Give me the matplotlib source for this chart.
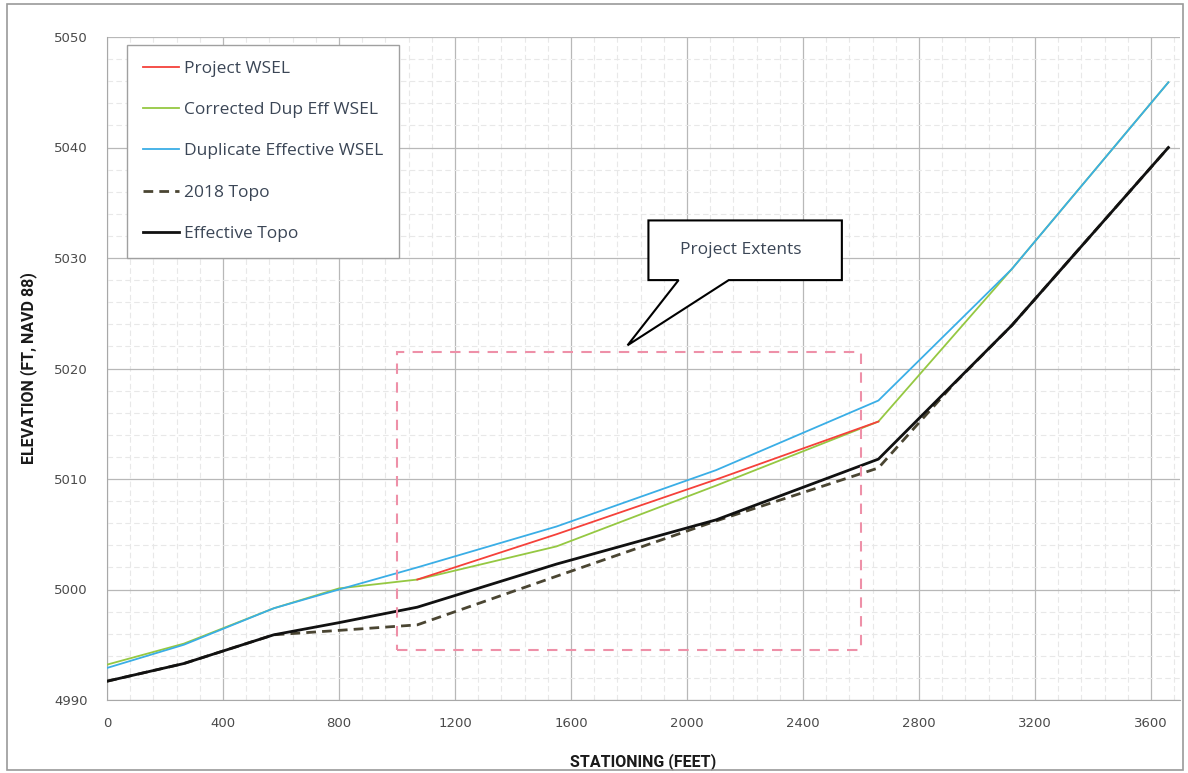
import numpy as np
import matplotlib
matplotlib.use('Agg')
import matplotlib.pyplot as plt
from matplotlib.ticker import MultipleLocator
from matplotlib.patches import Rectangle, Polygon

# stationing (ft) shared by the full-length profiles
stations = [0, 265, 575, 800, 1070, 1550, 2100, 2660, 3120, 3660]
dup_eff_wsel = [4992.9, 4995.0, 4998.3, 5000.0, 5002.0, 5005.7, 5010.8, 5017.1, 5029.0, 5045.9]
corr_dup_wsel = [4993.2, 4995.1, 4998.3, 5000.1, 5000.9, 5003.9, 5009.4, 5015.2, 5029.0, 5045.9]
eff_topo = [4991.7, 4993.3, 4995.9, 4997.0, 4998.4, 5002.3, 5006.3, 5011.8, 5023.9, 5040.0]

# 2018 topo survey
topo_stations = [0, 265, 575, 800, 1070, 1550, 2100, 2660, 2920, 3120, 3660]
topo_2018 = [4991.7, 4993.3, 4995.9, 4996.3, 4996.8, 5001.2, 5006.2, 5011.0, 5018.6, 5023.9, 5040.0]

# project WSEL only inside the project reach
proj_stations = [1070, 1550, 2100, 2660]
proj_wsel = [5000.9, 5005.0, 5009.95, 5015.2]

# project extents box (stationing / elevation)
ext_x = [1000, 2600]
ext_y = [4994.5, 5021.5]

# callout "Project Extents"
call_x = [1867, 2534, 2534, 2144, 1795, 1971, 1867]
call_y = [5033.4, 5033.4, 5028.0, 5028.0, 5022.1, 5028.0, 5028.0]

fig = plt.figure(figsize=(11.88, 7.73), dpi=100)
ax = fig.add_axes([107/1188, 73/773, (1180-107)/1188, (700-37)/773])

ax.plot(proj_stations, proj_wsel, color='#f5413a', lw=1.3, label='Project WSEL', zorder=5)
ax.plot(stations, corr_dup_wsel, color='#95c842', lw=1.3, label='Corrected Dup Eff WSEL', zorder=4)
ax.plot(stations, dup_eff_wsel, color='#3aaee6', lw=1.3, label='Duplicate Effective WSEL', zorder=4.5)
ax.plot(topo_stations, topo_2018, color='#4a4532', lw=2.0, ls=(0, (3.5, 2.2)), label='2018 Topo', zorder=3)
ax.plot(stations, eff_topo, color='#111111', lw=2.0, label='Effective Topo', zorder=4)

ax.set_xlim(0, 3700)
ax.set_ylim(4990, 5050)
ax.xaxis.set_major_locator(MultipleLocator(400))
ax.xaxis.set_minor_locator(MultipleLocator(80))
ax.yaxis.set_major_locator(MultipleLocator(10))
ax.yaxis.set_minor_locator(MultipleLocator(2))
ax.grid(which='major', color='#b8b8b8', lw=0.9)
ax.grid(which='minor', color='#e8e8e8', lw=0.8, ls=(0, (5, 3)))
ax.set_axisbelow(True)

for s in ['top', 'right']:
    ax.spines[s].set_visible(False)
for s in ['left', 'bottom']:
    ax.spines[s].set_color('#a8a8a8')

ax.tick_params(which='both', length=0)
ax.tick_params(axis='x', pad=12, labelsize=9.5, labelcolor='#4a4a4a')
ax.tick_params(axis='y', pad=14, labelsize=9.5, labelcolor='#4a4a4a')

ax.set_xlabel('STATIONING (FEET)', fontsize=11.5, fontweight='bold', family='Roboto',
              color='#1a1a1a', labelpad=17)
ax.set_ylabel('ELEVATION (FT, NAVD 88)', fontsize=11.5, fontweight='bold', family='Roboto',
              color='#1a1a1a', labelpad=12)

# project extents
ax.add_patch(Rectangle((ext_x[0], ext_y[0]), ext_x[1]-ext_x[0], ext_y[1]-ext_y[0],
                       fill=False, ec='#ee90a8', lw=1.5, ls=(0, (5, 4)), zorder=8))

# callout
ax.add_patch(Polygon(np.column_stack([call_x, call_y]), closed=True, fc='white',
                     ec='black', lw=1.5, zorder=9))
ax.text((call_x[0]+call_x[1])/2 - 15, (call_y[0]+call_y[2])/2, 'Project Extents',
        ha='center', va='center', fontsize=12.5, family='Open Sans', color='#3b4656', zorder=10)

leg = ax.legend(loc='upper left', bbox_to_anchor=(20/1073, 1 - 8/663),
                prop={'family': 'Open Sans', 'size': 12.5}, labelspacing=1.45, handlelength=2.1,
                handletextpad=0.3, borderpad=0.9, borderaxespad=0, fancybox=False,
                edgecolor='#a0a0a0', framealpha=1)
leg.get_frame().set_linewidth(1.0)
for t in leg.get_texts():
    t.set_color('#3b4656')

# outer chart border
fig.patches.append(Rectangle((7/1188, 3/773), 1176/1188, 766/773, transform=fig.transFigure,
                             fill=False, ec='#9a9a9a', lw=1.2))

plt.savefig('out.png', dpi=100)
